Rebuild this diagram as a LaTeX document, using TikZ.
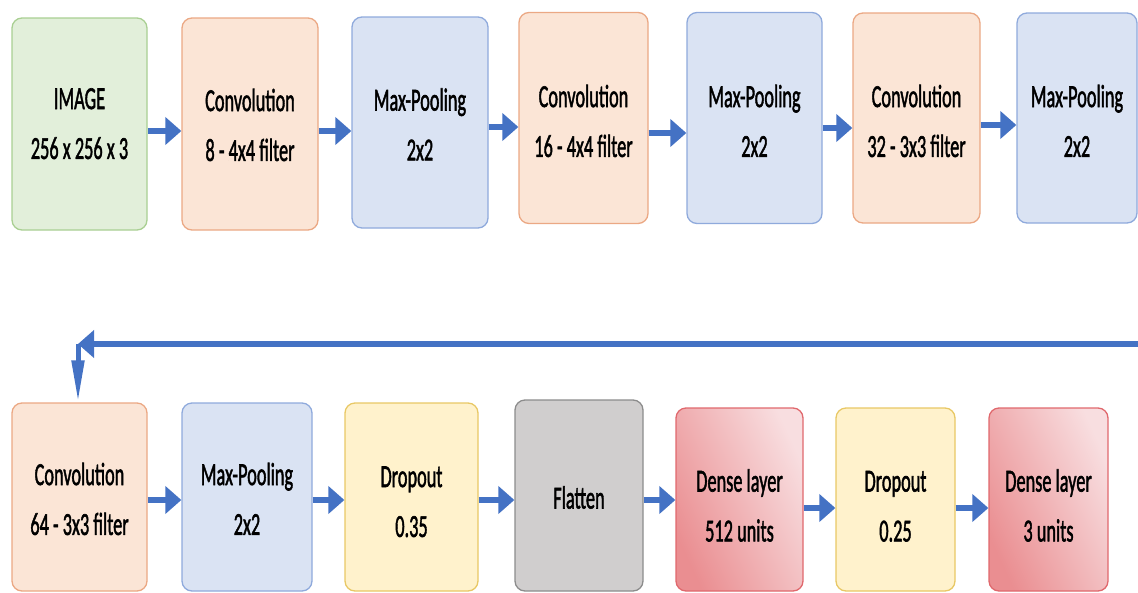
\documentclass[tikz,border=0pt]{standalone}
\usepackage{fontspec}
\setmainfont{Carlito}
\newfontfamily\boxfont{Carlito}[FakeBold=2]
\usetikzlibrary{arrows.meta}
\definecolor{arrblue}{HTML}{4472C4}
\definecolor{imgfill}{HTML}{E2EFDA}\definecolor{imgdraw}{HTML}{A9CF92}
\definecolor{convfill}{HTML}{FBE5D6}\definecolor{convdraw}{HTML}{EBA884}
\definecolor{poolfill}{HTML}{DAE3F3}\definecolor{pooldraw}{HTML}{8FAADC}
\definecolor{dropfill}{HTML}{FFF2CC}\definecolor{dropdraw}{HTML}{E8C865}
\definecolor{flatfill}{HTML}{D0CECE}\definecolor{flatdraw}{HTML}{8C8C8C}
\definecolor{densea}{HTML}{EA8E91}\definecolor{denseb}{HTML}{F8DEE0}
\definecolor{densedraw}{HTML}{E0686D}
\newcommand{\twoline}[2]{\scalebox{1}[1.75]{\begin{tabular}{@{}c@{}}#1\\#2\end{tabular}}}
\newcommand{\oneline}[1]{\scalebox{1}[1.75]{#1}}
\newcommand{\lowered}[2]{\vbox{\kern#1\hbox{#2}}}
\begin{document}
\begin{tikzpicture}[x=1pt,y=-1pt,
  blk/.style={rectangle, rounded corners=10pt, line width=1.3pt, inner sep=0pt,
    font=\boxfont\fontsize{18.3}{28.5}\selectfont},
  imgbox/.style={blk, fill=imgfill, draw=imgdraw},
  convbox/.style={blk, fill=convfill, draw=convdraw},
  poolbox/.style={blk, fill=poolfill, draw=pooldraw},
  dropbox/.style={blk, fill=dropfill, draw=dropdraw},
  flatbox/.style={blk, fill=flatfill, draw=flatdraw},
  densebox/.style={blk, draw=densedraw, left color=densea, right color=denseb, shading angle=115},
  arr/.style={draw=arrblue, line width=6pt, -{Triangle[width=27pt,length=16pt]}},
  arrv/.style={draw=arrblue, line width=5pt, -{Triangle[width=12pt,length=42pt]}}]
\useasboundingbox (0,0) rectangle (1138,592);
% top row
\node[imgbox, minimum width=135pt, minimum height=212pt] (img) at (79.5,124) {\twoline{IMAGE}{256 x 256 x 3}};
\node[convbox, minimum width=136pt, minimum height=212pt] (c1) at (250,124) {\lowered{4pt}{\twoline{Convolution}{8 - 4x4 filter}}};
\node[poolbox, minimum width=136pt, minimum height=211pt] (p1) at (420,122.5) {\lowered{6pt}{\twoline{Max-Pooling}{2x2}}};
\node[convbox, minimum width=129pt, minimum height=211pt] (c2) at (583.5,118) {\lowered{8pt}{\twoline{Convolution}{16 - 4x4 filter}}};
\node[poolbox, minimum width=135pt, minimum height=211pt] (p2) at (754.5,118) {\lowered{8pt}{\twoline{Max-Pooling}{2x2}}};
\node[convbox, minimum width=127pt, minimum height=210pt] (c3) at (916.5,118) {\lowered{8pt}{\twoline{Convolution}{32 - 3x3 filter}}};
\node[poolbox, minimum width=120pt, minimum height=210pt] (p3) at (1077,118) {\lowered{8pt}{\twoline{Max-Pooling}{2x2}}};
% bottom row
\node[convbox, minimum width=135pt, minimum height=188pt] (c4) at (79.5,497) {\lowered{6pt}{\twoline{Convolution}{64 - 3x3 filter}}};
\node[poolbox, minimum width=130pt, minimum height=188pt] (p4) at (247,497) {\lowered{6pt}{\twoline{Max-Pooling}{2x2}}};
\node[dropbox, minimum width=133pt, minimum height=188pt] (d1) at (411.5,497) {\lowered{10pt}{\twoline{Dropout}{0.35}}};
\node[flatbox, minimum width=128pt, minimum height=191pt] (fl) at (579,495.5) {\lowered{4pt}{\oneline{Flatten}}};
\node[densebox, minimum width=127pt, minimum height=183pt] (e1) at (739.5,499.5) {\lowered{14pt}{\twoline{Dense layer}{512 units}}};
\node[dropbox, minimum width=119pt, minimum height=183pt] (d2) at (895.5,499.5) {\lowered{14pt}{\twoline{Dropout}{0.25}}};
\node[densebox, minimum width=119pt, minimum height=183pt] (e2) at (1048.5,499.5) {\lowered{14pt}{\twoline{Dense layer}{3 units}}};
% connectors top
\draw[arr] (img.east |- 0,131) -- (c1.west |- 0,131);
\draw[arr] (c1.east |- 0,131) -- (p1.west |- 0,131);
\draw[arr] (p1.east |- 0,127) -- (c2.west |- 0,127);
\draw[arr] (c2.east |- 0,133) -- (p2.west |- 0,133);
\draw[arr] (p2.east |- 0,128) -- (c3.west |- 0,128);
\draw[arr] (c3.east |- 0,125) -- (p3.west |- 0,125);
% return line
\coordinate (rin) at (1138,344);
\coordinate (turn) at (78,344);
\draw[arrv] (turn) -- (c4.north -| turn);
\draw[arr] (rin) -- (turn);
% connectors bottom
\draw[arr] (c4.east |- 0,500) -- (p4.west |- 0,500);
\draw[arr] (p4.east |- 0,500) -- (d1.west |- 0,500);
\draw[arr] (d1.east |- 0,500) -- (fl.west |- 0,500);
\draw[arr] (fl.east |- 0,500) -- (e1.west |- 0,500);
\draw[arr] (e1.east |- 0,508) -- (d2.west |- 0,508);
\draw[arr] (d2.east |- 0,508) -- (e2.west |- 0,508);
\end{tikzpicture}
\end{document}
